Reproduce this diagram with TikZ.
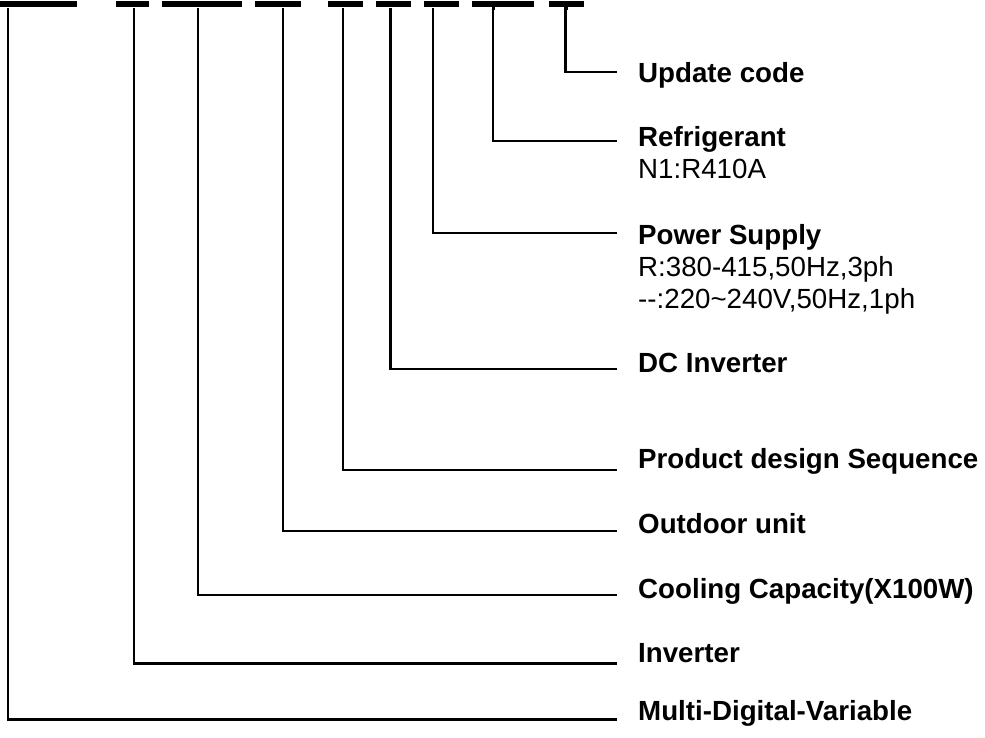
\documentclass[tikz,border=0pt]{standalone}
\usepackage{fontspec}
\setmainfont{Liberation Sans}
\begin{document}
\begin{tikzpicture}[x=1pt,y=-1pt,
  bar/.style={fill=black},
  conn/.style={draw=black,line width=2.2pt,line cap=butt,line join=miter},
  lbl/.style={anchor=base west,inner sep=0pt,font=\fontsize{27.7}{32}\selectfont\bfseries},
  sub/.style={anchor=base west,inner sep=0pt,font=\fontsize{27.7}{32}\selectfont}]
\useasboundingbox (0,0) rectangle (985,738);
% code bars
\foreach \a/\b in {0/77,116/149,162/242,255/301,328/363,376/411,424/459,472/534,549/584}
  \fill[bar] (\a,1) rectangle (\b,7);
% labels
\node[lbl] (l1) at (638,83) {Update code};
\node[lbl] (l2) at (638,147) {Refrigerant};
\node[sub] (l2a) at (638,179) {N1:R410A};
\node[lbl] (l3) at (638,244) {Power Supply};
\node[sub] (l3a) at (638,276) {R:380-415,50Hz,3ph};
\node[sub] (l3b) at (638,308) {-{}-:220\char`\~240V,50Hz,1ph};
\node[lbl] (l4) at (638,372) {DC Inverter};
\node[lbl] (l5) at (638,468) {Product design Sequence};
\node[lbl] (l6) at (638,533) {Outdoor unit};
\node[lbl] (l7) at (638,598) {Cooling Capacity(X100W)};
\node[lbl] (l8) at (638,662) {Inverter};
\node[lbl] (l9) at (638,720) {Multi-Digital-Variable};
% connector coordinates
\foreach \i/\x/\y in {1/565.5/72,2/493/141,3/433/233,4/390.5/369,5/343/470,6/283/531,7/198/595,8/134/663.5,9/7.7/719.5}{
  \coordinate (t\i) at (\x,8.5);
  \coordinate (e\i) at (617,\y);
}
\foreach \i in {3,4,5,6,7,8,9}
  \draw[conn] (t\i) |- (e\i);
\foreach \i in {1,2}
  \draw[conn] ([xshift=2pt]t\i) -- (t\i) |- (e\i);
\end{tikzpicture}
\end{document}
